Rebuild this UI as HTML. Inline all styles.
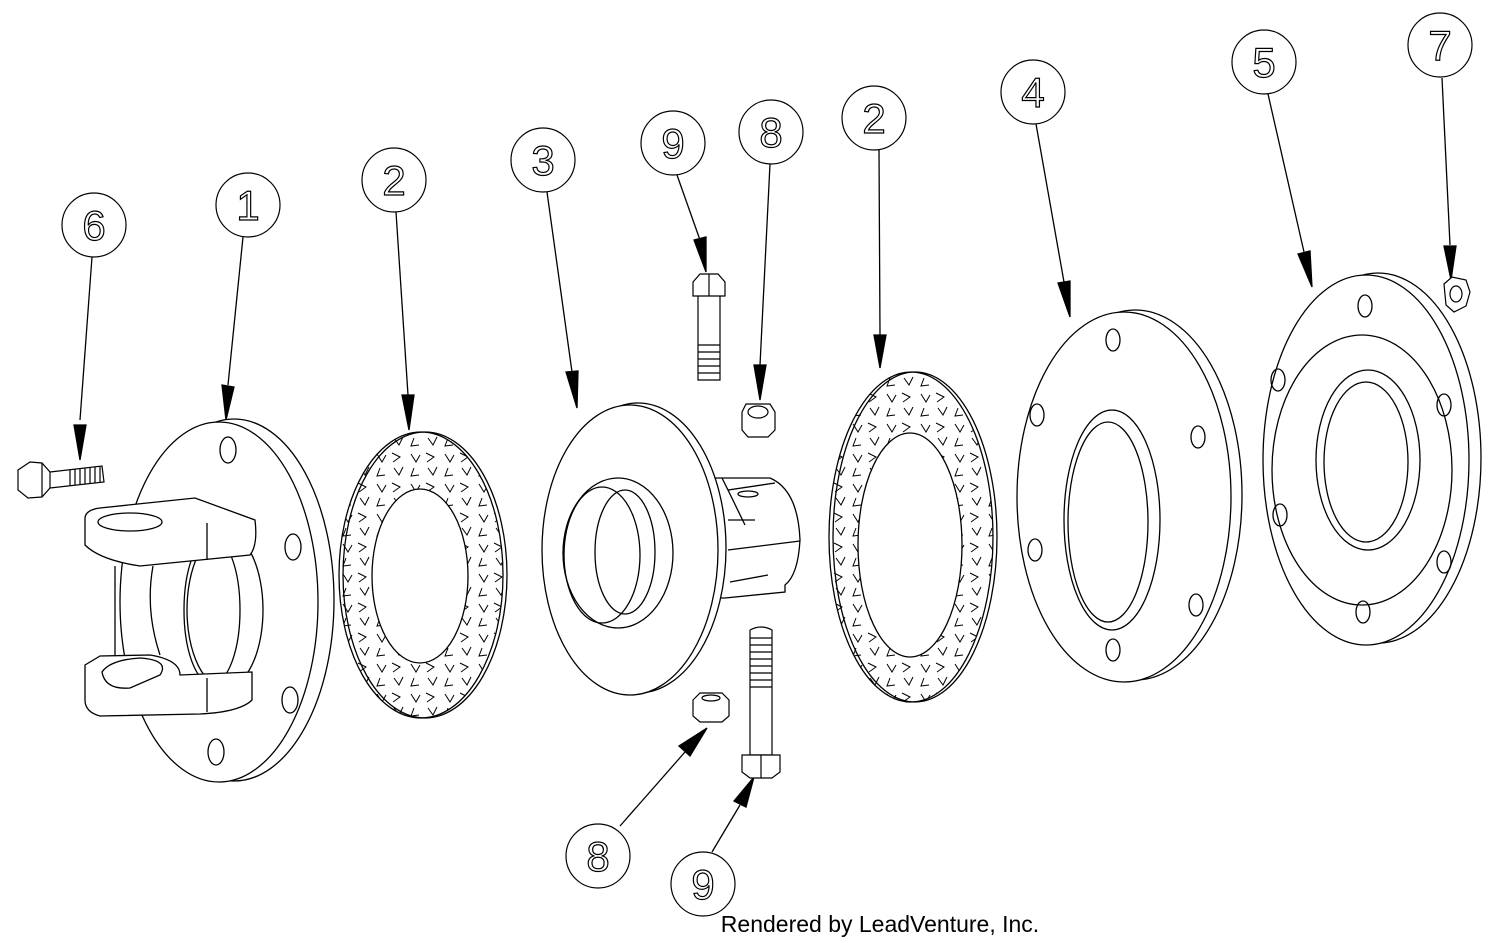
<!DOCTYPE html>
<html><head><meta charset="utf-8"><style>html,body{margin:0;padding:0;background:#fff}svg{display:block}</style></head>
<body>
<svg width="1500" height="943" viewBox="0 0 1500 943" xmlns="http://www.w3.org/2000/svg" fill="none" stroke="#000" stroke-width="1.5">
<defs>
<pattern id="h" width="34" height="30" patternUnits="userSpaceOnUse">
<path d="M3,4 l5,8 l4,-7 M18,3 l8,4 l-7,5 M6,18 l-3,8 l8,-1 M20,18 l5,7 l4,-8" stroke="#000" stroke-width="1" fill="none"/>
</pattern>
</defs>
<!-- callouts -->
<g stroke-width="1.2">
<circle cx="94" cy="225" r="32"/><circle cx="248" cy="205" r="32"/><circle cx="394" cy="180" r="32"/>
<circle cx="543" cy="160" r="32"/><circle cx="673" cy="143" r="32"/><circle cx="771" cy="132" r="32"/>
<circle cx="874" cy="118" r="32"/><circle cx="1033" cy="92" r="32"/><circle cx="1264" cy="62" r="32"/>
<circle cx="1440" cy="45" r="32"/><circle cx="598" cy="856" r="32"/><circle cx="703" cy="884" r="32"/>
</g>
<g font-family="Liberation Sans, DejaVu Sans, sans-serif" font-size="42" fill="#fff" stroke="#000" stroke-width="1.2" text-anchor="middle">
<text x="94" y="240">6</text><text x="248" y="220">1</text><text x="394" y="195">2</text>
<text x="543" y="175">3</text><text x="673" y="158">9</text><text x="771" y="147">8</text>
<text x="874" y="133">2</text><text x="1033" y="107">4</text><text x="1264" y="77">5</text>
<text x="1440" y="60">7</text><text x="598" y="871">8</text><text x="703" y="899">9</text>
</g>
<!-- leaders -->
<g stroke-width="1.3">
<line x1="92" y1="257" x2="80" y2="420"/><path d="M74,425 L86,425 L80,460Z" fill="#000"/>
<line x1="243" y1="237" x2="228" y2="385"/><path d="M222,385 L234,387 L226,420Z" fill="#000"/>
<line x1="396" y1="212" x2="408" y2="395"/><path d="M402,395 L414,395 L409,430Z" fill="#000"/>
<line x1="547" y1="192" x2="572" y2="372"/><path d="M566,372 L578,371 L577,408Z" fill="#000"/>
<line x1="677" y1="175" x2="700" y2="240"/><path d="M694,240 L706,237 L706,272Z" fill="#000"/>
<line x1="770" y1="164" x2="760" y2="365"/><path d="M754,365 L766,365 L760,400Z" fill="#000"/>
<line x1="879" y1="150" x2="880" y2="335"/><path d="M874,335 L886,335 L880,368Z" fill="#000"/>
<line x1="1036" y1="124" x2="1064" y2="282"/><path d="M1058,283 L1070,281 L1070,317Z" fill="#000"/>
<line x1="1268" y1="94" x2="1304" y2="252"/><path d="M1298,254 L1310,251 L1312,287Z" fill="#000"/>
<line x1="1442" y1="78" x2="1450" y2="245"/><path d="M1444,246 L1456,246 L1451,280Z" fill="#000"/>
<line x1="620" y1="826" x2="685" y2="752"/><path d="M679,746 L690,756 L707,728Z" fill="#000"/>
<line x1="712" y1="852" x2="740" y2="805"/><path d="M734,801 L746,807 L754,777Z" fill="#000"/>
</g>
<!-- part 6 bolt -->
<g stroke-width="1.2">
<path d="M18,470 L30,462 L42,463 L50,472 L50,488 L42,497 L28,498 L18,490 Z"/>
<path d="M42,463 L42,497"/>
<path d="M50,472 L102,466 L104,482 L50,488"/>
<path d="M70,470 l0,16 M75,469 l0,16 M80,469 l0,16 M85,468 l0,16 M90,468 l0,16 M95,467 l0,16 M100,467 l0,16"/>
</g>
<!-- part 1 flange -->
<g stroke-width="1.3">
<ellipse cx="234" cy="600" rx="100" ry="181" fill="#fff"/>
<ellipse cx="219" cy="602" rx="99" ry="180" fill="#fff"/>
<ellipse cx="228" cy="450" rx="8" ry="13"/><ellipse cx="293" cy="547" rx="8" ry="13"/>
<ellipse cx="290" cy="700" rx="8" ry="13"/><ellipse cx="216" cy="752" rx="8" ry="13"/>
<ellipse cx="225" cy="610" rx="38" ry="78"/><ellipse cx="212" cy="610" rx="28" ry="74"/>
<path d="M85,520 Q84,510 100,508 L195,498 L255,520 Q258,545 250,555 L140,566 Q100,560 85,545 Z" fill="#fff"/>
<ellipse cx="130" cy="522" rx="32" ry="9"/>
<path d="M85,665 L100,656 L150,655 Q180,660 180,675 L252,672 L252,700 Q240,712 200,714 L100,716 Q85,712 85,700 Z" fill="#fff"/>
<path d="M102,672 Q110,660 140,658 Q170,660 160,675 L130,688 Q105,690 102,672Z"/>
<line x1="207" y1="523" x2="207" y2="560"/><line x1="207" y1="678" x2="207" y2="712"/>
<path d="M115,566 L115,655"/><path d="M153,566 Q145,610 160,655"/>
</g>
<!-- part 2 left -->
<g stroke-width="1.3">
<ellipse cx="425" cy="575" rx="82" ry="143" fill="#fff"/>
<ellipse cx="421" cy="575" rx="82" ry="143" fill="url(#h)"/>
<ellipse cx="420" cy="576" rx="48" ry="87" fill="#fff"/>
</g>
<!-- part 3 -->
<g stroke-width="1.3">
<path d="M712,478 L770,478 Q798,490 800,540 Q798,575 785,585 L785,592 L725,598 L712,598" fill="#fff"/>
<path d="M722,478 L728,490 L775,483 M728,490 L745,525 M728,520 L755,520 M728,550 L800,541 M730,582 L768,575"/>
<ellipse cx="722" cy="490" rx="0" ry="0"/>
<ellipse cx="748" cy="494" rx="10" ry="3"/>
<ellipse cx="638" cy="548" rx="88" ry="145" fill="#fff"/>
<ellipse cx="630" cy="550" rx="88" ry="145" fill="#fff"/>
<ellipse cx="618" cy="553" rx="55" ry="75"/>
<ellipse cx="602" cy="555" rx="38" ry="68"/>
<ellipse cx="625" cy="552" rx="30" ry="62"/>
</g>
<!-- bolts 9, nuts 8 -->
<g stroke-width="1.2">
<path d="M693,282 L700,274 L718,274 L725,282 L725,296 L693,296 Z" fill="#fff"/><line x1="709" y1="274" x2="709" y2="296"/>
<path d="M698,296 L698,380 L720,380 L720,296"/>
<path d="M698,345 h22 M698,352 h22 M698,359 h22 M698,366 h22 M698,373 h22"/>
<path d="M742,412 L746,404 L770,404 L775,412 L775,430 L768,437 L748,437 L742,430 Z" fill="#fff"/><ellipse cx="758" cy="412" rx="10" ry="6"/>
<path d="M750,630 L750,755 L772,755 L772,630 Q761,624 750,630"/>
<path d="M750,638 h22 M750,645 h22 M750,652 h22 M750,659 h22 M750,666 h22 M750,673 h22 M750,680 h22 M750,687 h22"/>
<path d="M742,755 L780,755 L780,772 L772,778 L750,778 L742,772 Z" fill="#fff"/><line x1="761" y1="755" x2="761" y2="778"/>
<path d="M693,700 L700,693 L722,693 L729,700 L729,716 L722,722 L700,722 L693,716 Z" fill="#fff"/><ellipse cx="711" cy="698" rx="9" ry="3"/>
<path d="M1444,284 L1452,277 L1466,280 L1470,292 L1466,306 L1454,312 L1446,305 Z" fill="#fff"/><ellipse cx="1456" cy="294" rx="6" ry="8"/>
</g>
<!-- part 2 right -->
<g stroke-width="1.3">
<ellipse cx="915" cy="537" rx="82" ry="165" fill="#fff"/>
<ellipse cx="911" cy="537" rx="82" ry="165" fill="url(#h)"/>
<ellipse cx="910" cy="545" rx="52" ry="112" fill="#fff"/>
</g>
<!-- part 4 -->
<g stroke-width="1.3">
<ellipse cx="1135" cy="495" rx="107" ry="185" fill="#fff"/>
<ellipse cx="1124" cy="497" rx="107" ry="185" fill="#fff"/>
<ellipse cx="1112" cy="520" rx="48" ry="110"/><ellipse cx="1108" cy="522" rx="40" ry="100"/>
<ellipse cx="1113" cy="340" rx="7" ry="11"/><ellipse cx="1198" cy="437" rx="7" ry="11"/>
<ellipse cx="1196" cy="605" rx="7" ry="11"/><ellipse cx="1113" cy="650" rx="7" ry="11"/>
<ellipse cx="1035" cy="550" rx="7" ry="11"/><ellipse cx="1037" cy="415" rx="7" ry="11"/>
</g>
<!-- part 5 -->
<g stroke-width="1.3">
<ellipse cx="1378" cy="458" rx="103" ry="185" fill="#fff"/>
<ellipse cx="1366" cy="460" rx="103" ry="185" fill="#fff"/>
<ellipse cx="1362" cy="470" rx="90" ry="135"/>
<ellipse cx="1368" cy="460" rx="52" ry="90"/><ellipse cx="1366" cy="462" rx="42" ry="80"/>
<ellipse cx="1365" cy="306" rx="7" ry="11"/><ellipse cx="1444" cy="405" rx="7" ry="11"/>
<ellipse cx="1444" cy="562" rx="7" ry="11"/><ellipse cx="1363" cy="612" rx="7" ry="11"/>
<ellipse cx="1280" cy="515" rx="7" ry="11"/><ellipse cx="1278" cy="380" rx="7" ry="11"/>
</g>
<text x="880" y="932" font-family="Liberation Sans Narrow, Liberation Sans, sans-serif" font-size="23" fill="#000" stroke="none" text-anchor="middle">Rendered by LeadVenture, Inc.</text>
</svg>
</body></html>
